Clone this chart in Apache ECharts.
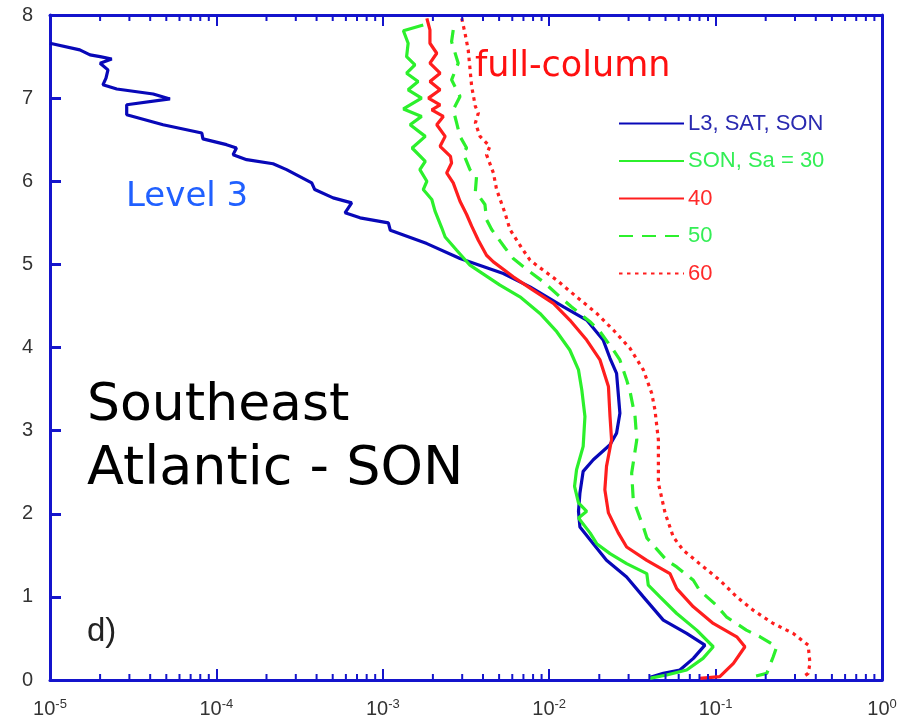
<!DOCTYPE html>
<html>
<head>
<meta charset="utf-8">
<script src="https://cdn.jsdelivr.net/npm/echarts@6/dist/echarts.min.js"></script>
<style>html,body{margin:0;padding:0;background:#fff;}#chart{width:912px;height:721px;}</style>
</head>
<body>
<div id="chart"></div>
<script>
// ---- data (x = value on log axis, y = height in km) ----
const l3Y = [7.66,7.58,7.52,7.50,7.47,7.42,7.34,7.24,7.16,7.11,7.05,6.99,6.92,6.80,6.68,6.58,6.51,6.44,6.40,6.32,6.26,6.21,6.14,5.98,5.90,5.80,5.74,5.62,5.56,5.50,5.41,5.25,5.07,4.89,4.73,4.49,4.33,4.09,3.87,3.69,3.21,2.97,2.83,2.65,2.51,2.25,2.03,1.84,1.64,1.44,1.24,1.00,0.72,0.56,0.42,0.26,0.12,0.08,0.03];
const l3X = [1.0e-5,1.51e-5,1.74e-5,2.0e-5,2.35e-5,2.0e-5,2.23e-5,2.17e-5,2.08e-5,2.52e-5,4.17e-5,5.26e-5,2.89e-5,2.89e-5,4.78e-5,8.17e-5,8.3e-5,1.15e-4,1.32e-4,1.26e-4,1.52e-4,2.19e-4,2.64e-4,3.74e-4,3.9e-4,5.03e-4,6.5e-4,5.93e-4,7.3e-4,1.08e-3,1.11e-3,1.84e-3,2.91e-3,5.3e-3,7.67e-3,1.22e-2,1.68e-2,2.11e-2,2.32e-2,2.54e-2,2.66e-2,2.54e-2,2.32e-2,1.84e-2,1.60e-2,1.53e-2,1.50e-2,1.53e-2,1.84e-2,2.21e-2,2.92e-2,3.68e-2,4.85e-2,6.7e-2,8.63e-2,7.35e-2,6.1e-2,4.85e-2,4.0e-2];

const sa30Y = [7.88,7.81,7.66,7.50,7.40,7.30,7.20,7.10,7.00,6.87,6.78,6.68,6.54,6.40,6.24,6.14,6.00,5.90,5.78,5.64,5.44,5.33,5.17,4.99,4.91,4.75,4.61,4.41,4.19,3.97,3.73,3.49,3.17,2.81,2.53,2.33,2.13,2.03,1.95,1.77,1.64,1.52,1.40,1.28,1.14,1.00,0.80,0.60,0.40,0.26,0.12,0.06,0.02];
const sa30X = [1.75e-3,1.33e-3,1.42e-3,1.39e-3,1.56e-3,1.39e-3,1.63e-3,1.42e-3,1.71e-3,1.33e-3,1.71e-3,1.46e-3,1.80e-3,1.50e-3,1.80e-3,1.67e-3,1.84e-3,1.75e-3,1.97e-3,2.06e-3,2.26e-3,2.37e-3,2.78e-3,3.34e-3,3.84e-3,5.06e-3,6.67e-3,8.8e-3,1.11e-2,1.33e-2,1.50e-2,1.57e-2,1.64e-2,1.60e-2,1.46e-2,1.42e-2,1.50e-2,1.68e-2,1.50e-2,1.76e-2,1.93e-2,2.32e-2,2.92e-2,3.86e-2,3.94e-2,4.63e-2,5.84e-2,7.7e-2,9.68e-2,8.4e-2,6.7e-2,5.08e-2,4.0e-2];

const sa40Y = [7.96,7.82,7.66,7.54,7.42,7.30,7.20,7.10,7.00,6.92,6.86,6.78,6.68,6.54,6.42,6.30,6.22,6.10,5.98,5.76,5.60,5.46,5.29,5.11,5.03,4.85,4.69,4.53,4.33,4.09,3.85,3.53,3.17,2.89,2.57,2.29,2.01,1.77,1.60,1.44,1.28,1.10,0.88,0.68,0.52,0.40,0.20,0.04,0.02];
const sa40X = [1.84e-3,1.92e-3,1.92e-3,2.11e-3,1.92e-3,2.21e-3,1.92e-3,2.21e-3,1.88e-3,2.21e-3,1.97e-3,2.31e-3,2.11e-3,2.37e-3,2.21e-3,2.55e-3,2.59e-3,2.42e-3,2.65e-3,2.91e-3,3.19e-3,3.42e-3,3.75e-3,4.2e-3,4.62e-3,6.08e-3,8.0e-3,1.06e-2,1.33e-2,1.68e-2,2.02e-2,2.27e-2,2.32e-2,2.37e-2,2.21e-2,2.16e-2,2.27e-2,2.6e-2,2.92e-2,3.86e-2,5.32e-2,5.84e-2,7.35e-2,9.68e-2,1.34e-1,1.50e-1,1.28e-1,1.06e-1,8.0e-2];

const sa50Y = [7.82,7.68,7.42,7.22,7.02,6.86,6.70,6.54,6.40,6.34,6.14,6.06,5.88,5.72,5.54,5.42,5.20,5.07,4.91,4.79,4.61,4.49,4.31,4.19,3.97,3.85,3.61,3.47,3.17,2.89,2.49,2.17,1.84,1.71,1.44,1.36,1.20,1.08,0.90,0.76,0.60,0.52,0.40,0.28,0.08,0.04];
const sa50X = [2.65e-3,2.59e-3,2.84e-3,2.59e-3,2.91e-3,2.65e-3,2.78e-3,2.91e-3,3.19e-3,3.04e-3,3.34e-3,3.66e-3,3.6e-3,4.11e-3,4.2e-3,4.51e-3,5.42e-3,6.08e-3,7.67e-3,9.22e-3,1.16e-2,1.36e-2,1.76e-2,2.02e-2,2.43e-2,2.66e-2,2.92e-2,3.06e-2,3.28e-2,3.36e-2,3.13e-2,3.2e-2,3.68e-2,3.86e-2,5.08e-2,5.84e-2,7.35e-2,8.0e-2,1.01e-1,1.16e-1,1.53e-1,1.85e-1,2.33e-1,2.22e-1,2.03e-1,1.68e-1];

const sa60Y = [7.96,7.78,7.58,7.36,7.14,6.90,6.82,6.70,6.54,6.46,6.42,6.32,6.10,5.90,5.62,5.42,5.23,5.05,4.99,4.81,4.61,4.41,4.21,3.99,3.73,3.45,3.25,2.89,2.37,2.01,1.72,1.56,1.40,1.20,1.00,0.84,0.68,0.56,0.42,0.20,0.08,0.04];
const sa60X = [2.98e-3,3.12e-3,3.26e-3,3.34e-3,3.42e-3,3.6e-3,3.75e-3,3.6e-3,3.84e-3,4.2e-3,4.4e-3,4.2e-3,4.62e-3,4.83e-3,5.42e-3,5.81e-3,6.67e-3,7.67e-3,8.4e-3,1.11e-2,1.46e-2,1.93e-2,2.43e-2,3.06e-2,3.68e-2,4.13e-2,4.32e-2,4.53e-2,4.53e-2,4.97e-2,5.57e-2,6.4e-2,8.0e-2,1.06e-1,1.34e-1,1.68e-1,2.22e-1,2.93e-1,3.6e-1,3.69e-1,3.6e-1,3.37e-1];

const seriesNames = ['L3, SAT, SON','SON, Sa = 30','40','50','60'];
const minorTickValues = [2e-5,3e-5,4e-5,5e-5,6e-5,7e-5,8e-5,9e-5,2e-4,3e-4,4e-4,5e-4,6e-4,7e-4,8e-4,9e-4,2e-3,3e-3,4e-3,5e-3,6e-3,7e-3,8e-3,9e-3,2e-2,3e-2,4e-2,5e-2,6e-2,7e-2,8e-2,9e-2,2e-1,3e-1,4e-1,5e-1,6e-1,7e-1,8e-1,9e-1];

// ---- styling ----
const axisColor = '#1414cc';
const blue = '#0808b8', green = '#2cf02c', red = '#ff1e1e';
const labelColor = '#333333';
const labelFont = '"Liberation Sans", Arial, sans-serif';
const annoFont = '"DejaVu Sans", sans-serif';

function pairs(xs, ys){ return xs.map((x,i)=>[x, ys[i]]); }

const chart = echarts.init(document.getElementById('chart'), null, {renderer:'canvas'});

const lineBase = {type:'line', symbol:'none', showSymbol:false, smooth:false, animation:false, xAxisIndex:0, yAxisIndex:0, z:3};

const option = {
  animation:false,
  backgroundColor:'#ffffff',
  grid:{left:50, right:30, top:15, bottom:41, containLabel:false},
  xAxis:[
    {type:'log', logBase:10, min:1e-5, max:1, position:'bottom',
     axisLine:{show:true, onZero:false, lineStyle:{color:axisColor, width:3}},
     axisTick:{show:true, inside:true, length:11, lineStyle:{color:axisColor, width:2}},
     splitLine:{show:false}, minorTick:{show:false}, minorSplitLine:{show:false},
     axisLabel:{margin:18, color:labelColor,
       formatter:function(v){ const e = Math.round(Math.log10(v)); return '{b|10}{s|' + e + '}'; },
       rich:{b:{fontSize:20, fontFamily:labelFont, color:labelColor},
             s:{fontSize:13, fontFamily:labelFont, color:labelColor, padding:[0,0,9,0]}}}
    },
    {type:'log', logBase:10, min:1e-5, max:1, position:'top',
     axisLine:{show:true, onZero:false, lineStyle:{color:axisColor, width:3}},
     axisTick:{show:true, inside:true, length:11, lineStyle:{color:axisColor, width:2}},
     axisLabel:{show:false}, splitLine:{show:false}}
  ],
  yAxis:[
    {type:'value', min:0, max:8, interval:1, position:'left',
     axisLine:{show:true, onZero:false, lineStyle:{color:axisColor, width:3}},
     axisTick:{show:true, inside:true, length:11, lineStyle:{color:axisColor, width:3}},
     splitLine:{show:false},
     axisLabel:{margin:17, color:labelColor, fontSize:20, fontFamily:labelFont}},
    {type:'value', min:0, max:8, interval:1, position:'right',
     axisLine:{show:true, onZero:false, lineStyle:{color:axisColor, width:3}},
     axisTick:{show:false}, axisLabel:{show:false}, splitLine:{show:false}}
  ],
  legend:{
    show:true, orient:'vertical', left:613, top:107.5,
    itemWidth:65, itemHeight:22, itemGap:15.5,
    itemStyle:{opacity:0},
    data:[
      {name:seriesNames[0], textStyle:{color:'#2a2ab0'}},
      {name:seriesNames[1], textStyle:{color:'#33ee55'}},
      {name:seriesNames[2], textStyle:{color:'#ff2a2a'}},
      {name:seriesNames[3], textStyle:{color:'#33ee55'}},
      {name:seriesNames[4], textStyle:{color:'#ff2a2a'}}
    ],
    textStyle:{fontSize:22, fontFamily:labelFont, padding:[0,0,0,-1]},
    selectedMode:false
  },
  series:[
    Object.assign({}, lineBase, {name:seriesNames[0], data:pairs(l3X,l3Y), color:blue, lineStyle:{color:blue, width:3.2}}),
    Object.assign({}, lineBase, {name:seriesNames[1], data:pairs(sa30X,sa30Y), color:green, lineStyle:{color:green, width:3.2}}),
    Object.assign({}, lineBase, {name:seriesNames[2], data:pairs(sa40X,sa40Y), color:red, lineStyle:{color:red, width:3.2}}),
    Object.assign({}, lineBase, {name:seriesNames[3], data:pairs(sa50X,sa50Y), color:green, lineStyle:{color:green, width:3.2, type:[14,9]}}),
    Object.assign({}, lineBase, {name:seriesNames[4], data:pairs(sa60X,sa60Y), color:red, lineStyle:{color:red, width:3.2, type:[3.5,4.5]}}),
    {type:'custom', name:'minorTicks', silent:true, clip:false, z:4, animation:false,
     xAxisIndex:0, yAxisIndex:0,
     data:minorTickValues.map(v=>[v,0]),
     encode:{x:0, y:1},
     renderItem:function(params, api){
       const v = api.value(0);
       const b = api.coord([v, 0]);
       const t = api.coord([v, 8]);
       return {type:'group', children:[
         {type:'line', shape:{x1:b[0], y1:b[1], x2:b[0], y2:b[1]-6}, style:{stroke:axisColor, lineWidth:2}},
         {type:'line', shape:{x1:t[0], y1:t[1], x2:t[0], y2:t[1]+6}, style:{stroke:axisColor, lineWidth:2}}
       ]};
     }}
  ],
  graphic:[
    {type:'text', left:126, top:180, style:{text:'Level 3', fill:'#2060ff', font:'34px ' + annoFont}},
    {type:'text', left:475, top:49, style:{text:'full-column', fill:'#ff1010', font:'35px ' + annoFont}},
    {type:'text', left:87, top:380, style:{text:'Southeast', fill:'#000', font:'52px ' + annoFont}},
    {type:'text', left:87, top:443, style:{text:'Atlantic - SON', fill:'#000', font:'54px ' + annoFont}},
    {type:'text', left:87, top:615, style:{text:'d)', fill:'#222', font:'33px ' + labelFont}}
  ]
};
chart.setOption(option);
</script>
</body>
</html>
